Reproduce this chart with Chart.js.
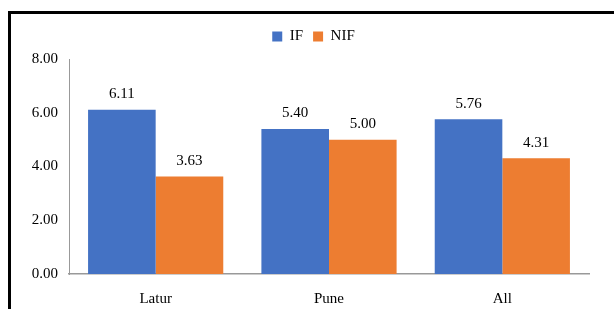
<!DOCTYPE html>
<html>
<head>
<meta charset="utf-8">
<script src="https://cdn.jsdelivr.net/npm/chart.js@4"></script>
<style>
  html, body { margin: 0; padding: 0; background: #fff; overflow: hidden; }
  #wrap { position: relative; width: 614px; height: 309px; }
  #frame { position: absolute; left: 8px; top: 11px; width: 700px; height: 400px; border: 3px solid #000; box-sizing: border-box; }
  canvas { position: absolute; left: 0; top: 0; }
</style>
</head>
<body>
<div id="wrap">
  <div id="frame"></div>
  <canvas id="grafico" width="614" height="309"></canvas>
</div>
<script>
// dati
const categorie = ['Latur', 'Pune', 'All'];
const valoriIF = [6.11, 5.40, 5.76];
const valoriNIF = [3.63, 5.00, 4.31];
const tickY = [0, 2, 4, 6, 8];

const fontSerif = "'Liberation Serif', 'Times New Roman', serif";

// plugin per scrivere i valori sopra le barre
const etichetteValori = {
    id: 'etichetteValori',
    afterDatasetsDraw: function (chart) {
        const ctx = chart.ctx;
        ctx.save();
        ctx.font = '15px ' + fontSerif;
        ctx.fillStyle = '#000';
        ctx.textAlign = 'center';
        ctx.textBaseline = 'bottom';
        chart.data.datasets.forEach(function (ds, i) {
            chart.getDatasetMeta(i).data.forEach(function (bar, j) {
                ctx.fillText(ds.data[j].toFixed(2), bar.x, bar.y - 8);
            });
        });
        ctx.restore();
    }
};

// spazio in più sotto la legenda e legenda spostata un po' a destra
const margineLegenda = {
    id: 'margineLegenda',
    beforeInit: function (chart) {
        const fitOrig = chart.legend.fit;
        chart.legend.fit = function () {
            fitOrig.bind(chart.legend)();
            this.height += 5;
        };
    },
    afterLayout: function (chart) {
        chart.legend.left += 13;
        chart.legend.right += 13;
    }
};

new Chart(document.getElementById('grafico').getContext('2d'), {
    type: 'bar',
    data: {
        labels: categorie,
        datasets: [
            { label: 'IF', data: valoriIF, backgroundColor: '#4472C4' },
            { label: 'NIF', data: valoriNIF, backgroundColor: '#ED7D31' }
        ]
    },
    options: {
        responsive: false,
        animation: false,
        layout: { padding: { left: 12, right: 25, top: 19, bottom: 0 } },
        datasets: { bar: { categoryPercentage: 0.78, barPercentage: 1.0 } },
        scales: {
            x: {
                grid: { display: false },
                border: { display: true, color: '#999', width: 1.5 },
                ticks: { color: '#000', font: { family: fontSerif, size: 15 }, padding: 8 },
                afterFit: function (scale) { scale.height = 35; }
            },
            y: {
                min: 0,
                max: 8,
                grid: { display: false },
                border: { display: true, color: '#999', width: 1 },
                afterBuildTicks: function (scale) {
                    scale.ticks = tickY.map(v => ({ value: v }));
                },
                ticks: {
                    color: '#000',
                    font: { family: fontSerif, size: 15 },
                    padding: 3,
                    callback: v => v.toFixed(2)
                },
                afterFit: function (scale) { scale.width = 57; }
            }
        },
        plugins: {
            legend: {
                position: 'top',
                labels: {
                    boxWidth: 10,
                    boxHeight: 10,
                    padding: 10,
                    color: '#000',
                    font: { family: fontSerif, size: 15 }
                }
            },
            tooltip: { enabled: false }
        }
    },
    plugins: [etichetteValori, margineLegenda]
});
</script>
</body>
</html>
